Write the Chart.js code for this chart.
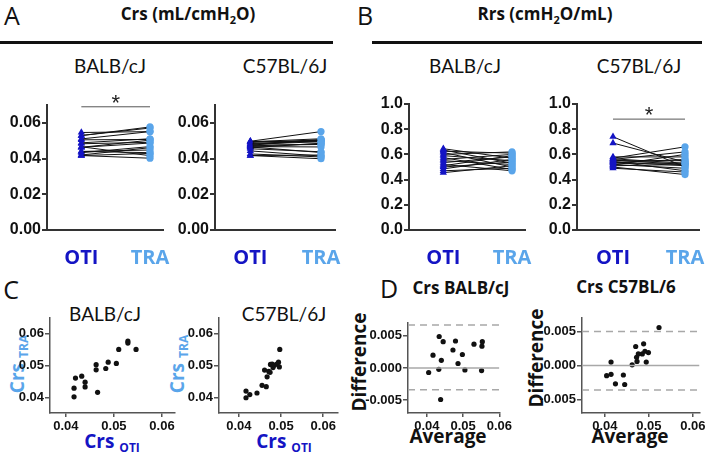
<!DOCTYPE html>
<html>
<head>
<meta charset="utf-8">
<script src="https://cdn.jsdelivr.net/npm/chart.js@4.4.0/dist/chart.umd.min.js"></script>
<style>
  body { margin: 0; width: 709px; height: 458px; background: #fff; position: relative; overflow: hidden; font-family: "Open Sans", Lato, sans-serif; color: #111; }
  .plot { position: absolute; }
  .t { position: absolute; white-space: nowrap; transform: translate(-50%, -50%); line-height: 1; }
  .v { position: absolute; white-space: nowrap; transform: translate(-50%, -50%) rotate(-90deg); line-height: 1; }
  .rule { position: absolute; height: 3px; background: #111; }
  .big { font-size: 25px; }
  .head { font-size: 17px; font-weight: 700; }
  .strain { font-family: Lato, sans-serif; font-size: 19px; }
  .oti { color: #1414c4; }
  .tra { color: #5aa5ea; }
  .ax { font-size: 19px; font-weight: 700; }
  .ax sub { font-size: 12px; vertical-align: -4px; margin-left: 5px; }
</style>
</head>
<body>
<div class="t big" style="left:12px;top:15px">A</div>
<div class="t head" style="left:188px;top:15px">Crs (mL/cmH<sub style="font-size:11px">2</sub>O)</div>
<div class="rule" style="left:0;top:41px;width:333px"></div>
<div class="t big" style="left:365px;top:15px">B</div>
<div class="t head" style="left:545px;top:15px">Rrs (cmH<sub style="font-size:11px">2</sub>O/mL)</div>
<div class="rule" style="left:372px;top:41px;width:330px"></div>

<div class="t strain" style="left:110px;top:65px">BALB/cJ</div>
<div class="t strain" style="left:285px;top:65px">C57BL/6J</div>
<div class="t strain" style="left:465px;top:65px">BALB/cJ</div>
<div class="t strain" style="left:639px;top:65px">C57BL/6J</div>

<div class="t big" style="left:11px;top:289px">C</div>
<div class="t big" style="left:389px;top:288px">D</div>
<div class="t strain" style="left:105px;top:313px">BALB/cJ</div>
<div class="t strain" style="left:284px;top:313px">C57BL/6J</div>
<div class="t head" style="left:461px;top:287px">Crs BALB/cJ</div>
<div class="t head" style="left:626px;top:286px">Crs C57BL/6</div>

<div class="v ax tra" style="left:19px;top:364px">Crs<sub>TRA</sub></div>
<div class="v ax tra" style="left:179px;top:364px">Crs<sub>TRA</sub></div>
<div class="t ax oti" style="left:112px;top:443px">Crs<sub>OTI</sub></div>
<div class="t ax oti" style="left:284px;top:443px">Crs<sub>OTI</sub></div>
<div class="v ax" style="left:359px;top:362px">Difference</div>
<div class="v ax" style="left:536px;top:358px">Difference</div>
<div class="t ax" style="left:448px;top:436px">Average</div>
<div class="t ax" style="left:630px;top:436px">Average</div>

<script>
const groups = ['OTI', 'TRA'];
const otiColor = '#1414c4';
const traColor = '#5aa5ea';

// Crs per mouse, BALB/cJ
const crsBalbOti = [0.0417, 0.0417, 0.0420, 0.0433, 0.0440, 0.0440, 0.0463, 0.0463, 0.0466, 0.0483, 0.0488, 0.0505, 0.0510, 0.0529, 0.0529, 0.0546];
const crsBalbTra = [0.0429, 0.0402, 0.0461, 0.0467, 0.0448, 0.0433, 0.0503, 0.0487, 0.0416, 0.0491, 0.0511, 0.0507, 0.0551, 0.0577, 0.0571, 0.0551];
// Crs per mouse, C57BL/6J
const crsB6Oti = [0.0417, 0.0417, 0.0426, 0.0443, 0.0455, 0.0461, 0.0465, 0.0467, 0.0471, 0.0475, 0.0474, 0.0479, 0.0481, 0.0484, 0.0490, 0.0494, 0.0496, 0.0497];
const crsB6Tra = [0.0420, 0.0399, 0.0409, 0.0414, 0.0438, 0.0486, 0.0434, 0.0465, 0.0482, 0.0504, 0.0479, 0.0505, 0.0494, 0.0501, 0.0505, 0.0511, 0.0496, 0.0551];
// Rrs per mouse
const rrsBalbOti = [0.645, 0.635, 0.625, 0.615, 0.60, 0.59, 0.575, 0.56, 0.55, 0.535, 0.52, 0.51, 0.50, 0.485, 0.47, 0.455];
const rrsBalbTra = [0.57, 0.53, 0.61, 0.50, 0.62, 0.55, 0.48, 0.60, 0.52, 0.58, 0.47, 0.59, 0.54, 0.56, 0.49, 0.51];
const rrsB6Oti = [0.74, 0.69, 0.58, 0.57, 0.565, 0.56, 0.555, 0.55, 0.545, 0.54, 0.535, 0.53, 0.52, 0.515, 0.51, 0.50, 0.49];
const rrsB6Tra = [0.50, 0.54, 0.58, 0.66, 0.53, 0.62, 0.52, 0.55, 0.47, 0.51, 0.56, 0.53, 0.49, 0.60, 0.52, 0.44, 0.46];

// Bland-Altman (average, difference) and limits
const baBalbAvg = [0.0405, 0.0417, 0.0433, 0.0434, 0.0440, 0.0438, 0.0445, 0.0472, 0.0479, 0.0486, 0.0498, 0.0505, 0.0530, 0.0552, 0.0553, 0.0551];
const baBalbDiff = [-0.0007, 0.0020, -0.0002, 0.0049, 0.0012, -0.0049, 0.0041, 0.0028, 0.0042, 0.0007, 0.0021, -0.0003, 0.0037, 0.0034, 0.0041, -0.0004];
const baBalbLimits = [0.0067, -0.0034];
const baB6Avg = [0.0404, 0.0414, 0.0414, 0.0424, 0.0442, 0.0445, 0.0462, 0.0470, 0.0472, 0.0473, 0.0476, 0.0485, 0.0488, 0.0491, 0.0494, 0.0499, 0.0523];
const baB6Diff = [-0.0015, -0.0013, 0.0005, -0.0027, -0.0014, -0.0028, 0.0001, 0.0028, 0.0012, 0.0006, 0.0017, 0.0017, 0.0032, 0.0021, 0.0005, 0.0019, 0.0056];
const baB6Limits = [0.0050, -0.0036];

// tick labels
const crsTicks = [0, 0.02, 0.04, 0.06];
const rrsTicks = [0, 0.2, 0.4, 0.6, 0.8, 1.0];
const scatterTicks = [0.04, 0.05, 0.06];
const diffTicks = [-0.005, 0, 0.005];

const tickFont = { family: 'Liberation Sans, Arial, sans-serif', weight: 'bold', size: 16 };
const smallFont = { family: 'Liberation Sans, Arial, sans-serif', weight: 'bold', size: 13 };

function mount(area, yw, xh, pt, pr) {
  const wrap = document.createElement('div');
  wrap.className = 'plot';
  wrap.style.left = (area[0] - yw) + 'px';
  wrap.style.top = (area[1] - pt) + 'px';
  wrap.style.width = (area[2] - area[0] + yw + pr) + 'px';
  wrap.style.height = (area[3] - area[1] + pt + xh) + 'px';
  const cv = document.createElement('canvas');
  wrap.appendChild(cv);
  document.body.appendChild(wrap);
  return cv;
}

const sigPlugin = {
  id: 'sig',
  afterDatasetsDraw(chart, args, opts) {
    if (opts.y == null) return;
    const { ctx, scales: { x, y } } = chart;
    const yy = y.getPixelForValue(opts.y);
    const x0 = x.getPixelForValue(0), x1 = x.getPixelForValue(1);
    ctx.save();
    ctx.strokeStyle = '#555';
    ctx.lineWidth = 1;
    ctx.beginPath();
    ctx.moveTo(x0, yy);
    ctx.lineTo(x1, yy);
    ctx.stroke();
    ctx.fillStyle = '#222';
    ctx.font = '22px "Liberation Sans", Arial';
    ctx.textAlign = 'center';
    ctx.textBaseline = 'alphabetic';
    ctx.fillText('*', (x0 + x1) / 2, yy + 3);
    ctx.restore();
  }
};

function yScale(min, max, ticks, dec, font, color, width, yw) {
  return {
    min: min, max: max,
    afterFit: s => { s.width = yw; },
    afterBuildTicks: s => { s.ticks = ticks.map(v => ({ value: v })); },
    grid: { drawOnChartArea: false, drawTicks: true, tickLength: 5, color: color, lineWidth: width },
    border: { color: color, width: width },
    ticks: { font: font, color: '#111', padding: 1, callback: v => v.toFixed(dec) }
  };
}

function pairedChart(area, oti, tra, yMax, ticks, dec, sigY) {
  const cv = mount(area, 50, 40, 28, 6);
  const sets = oti.map((v, i) => ({
    data: [{ x: 0, y: v }, { x: 1, y: tra[i] }],
    borderColor: '#111',
    borderWidth: 1,
    pointStyle: ['triangle', 'circle'],
    pointBackgroundColor: [otiColor, traColor],
    pointBorderColor: [otiColor, traColor],
    pointBorderWidth: 0,
    pointRadius: [4.2, 3.6]
  }));
  return new Chart(cv, {
    type: 'line',
    data: { datasets: sets },
    options: {
      responsive: true, maintainAspectRatio: false, animation: false,
      layout: { padding: { top: 28, right: 6, left: 0, bottom: 0 } },
      plugins: { legend: { display: false }, tooltip: { enabled: false }, sig: { y: sigY } },
      scales: {
        x: {
          type: 'linear', min: -0.5, max: 1.2,
          afterFit: s => { s.height = 40; },
          afterBuildTicks: s => { s.ticks = [{ value: 0 }, { value: 1 }]; },
          grid: { display: false },
          border: { color: '#333', width: 2 },
          ticks: {
            padding: 8,
            font: { family: '"Open Sans", Lato, sans-serif', weight: 'bold', size: 20 },
            color: c => c.index === 0 ? otiColor : traColor,
            callback: (v, i) => groups[i]
          }
        },
        y: yScale(0, yMax, ticks, dec, tickFont, '#333', 2, 50)
      }
    },
    plugins: [sigPlugin]
  });
}

function scatterChart(area, xs, ys, xMin, xMax, yMin, yMax, yTicks, yDec, lines) {
  const cv = mount(area, 50, 30, 12, 8);
  const sets = [];
  (lines || []).forEach(l => {
    sets.push({
      type: 'line',
      data: [{ x: xMin, y: l.v }, { x: xMax, y: l.v }],
      borderColor: '#a8a8a8',
      borderWidth: 1.5,
      borderDash: l.dash ? [7, 5] : [],
      pointRadius: 0
    });
  });
  sets.push({
    type: 'scatter',
    data: xs.map((x, i) => ({ x: x, y: ys[i] })),
    backgroundColor: '#111',
    borderWidth: 0,
    pointRadius: 2.6
  });
  return new Chart(cv, {
    type: 'scatter',
    data: { datasets: sets },
    options: {
      responsive: true, maintainAspectRatio: false, animation: false,
      layout: { padding: { top: 12, right: 8, left: 0, bottom: 0 } },
      plugins: { legend: { display: false }, tooltip: { enabled: false } },
      scales: {
        x: {
          type: 'linear', min: xMin, max: xMax,
          afterFit: s => { s.height = 30; },
          afterBuildTicks: s => { s.ticks = scatterTicks.map(v => ({ value: v })); },
          grid: { drawOnChartArea: false, drawTicks: true, tickLength: 4, color: '#555', lineWidth: 1.5 },
          border: { color: '#555', width: 1.5 },
          ticks: { font: smallFont, color: '#111', padding: 2, callback: v => v.toFixed(2) }
        },
        y: yScale(yMin, yMax, yTicks, yDec, smallFont, '#555', 1.5, 50)
      }
    }
  });
}

// A: Crs paired
pairedChart([47, 105, 172, 230], crsBalbOti, crsBalbTra, 0.07, crsTicks, 2, 0.069);
pairedChart([215, 105, 343, 230], crsB6Oti, crsB6Tra, 0.07, crsTicks, 2, null);
// B: Rrs paired
pairedChart([409, 104, 534, 230], rrsBalbOti, rrsBalbTra, 1.0, rrsTicks, 1, null);
pairedChart([577, 104, 707, 230], rrsB6Oti, rrsB6Tra, 1.0, rrsTicks, 1, 0.88);
// C: correlation
scatterChart([50, 318, 175, 413], crsBalbOti, crsBalbTra, 0.0367, 0.0627, 0.0351, 0.065, scatterTicks, 2);
scatterChart([219, 318, 338, 413], crsB6Oti, crsB6Tra, 0.0353, 0.0635, 0.0351, 0.065, scatterTicks, 2);
// D: Bland-Altman
scatterChart([408, 323, 506, 413], baBalbAvg, baBalbDiff, 0.0348, 0.06, -0.007, 0.007, diffTicks, 3,
  [{ v: 0 }, { v: baBalbLimits[0], dash: true }, { v: baBalbLimits[1], dash: true }]);
scatterChart([582, 318, 700, 413], baB6Avg, baB6Diff, 0.0348, 0.0615, -0.007, 0.007, diffTicks, 3,
  [{ v: 0 }, { v: baB6Limits[0], dash: true }, { v: baB6Limits[1], dash: true }]);
</script>
</body>
</html>
